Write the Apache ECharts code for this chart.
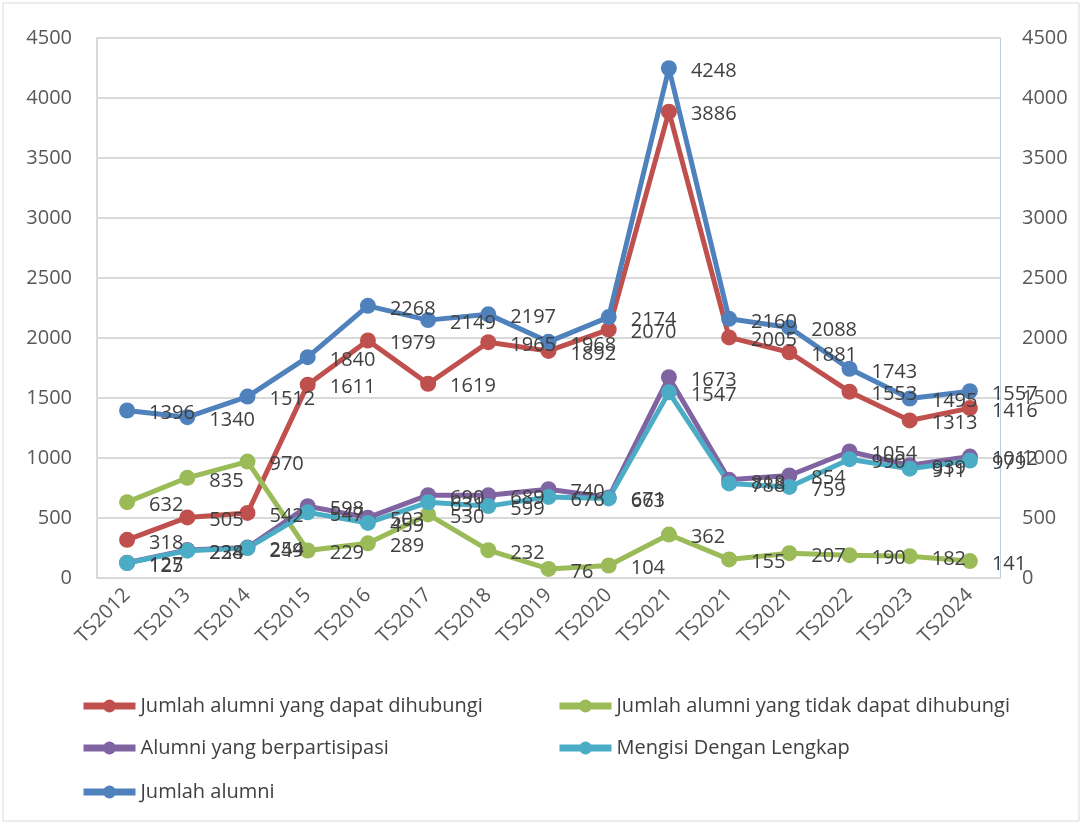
<!DOCTYPE html>
<html>
<head>
<meta charset="utf-8">
<title>Alumni</title>
<script src="https://cdn.jsdelivr.net/npm/echarts@6/dist/echarts.min.js"></script>
<style>
  html, body { margin: 0; padding: 0; background: #fff; }
  #chart { width: 1082px; height: 826px; }
</style>
</head>
<body>
<div id="chart"></div>
<script>
// data
const categories = ['TS2012', 'TS2013', 'TS2014', 'TS2015', 'TS2016', 'TS2017', 'TS2018', 'TS2019',
  'TS2020', 'TS2021', 'TS2021', 'TS2021', 'TS2022', 'TS2023', 'TS2024'];
const dapatDihubungi = [318, 505, 542, 1611, 1979, 1619, 1965, 1892, 2070, 3886, 2005, 1881, 1553, 1313, 1416];
const tidakDihubungi = [632, 835, 970, 229, 289, 530, 232, 76, 104, 362, 155, 207, 190, 182, 141];
const berpartisipasi = [127, 234, 254, 598, 503, 690, 689, 740, 671, 1673, 818, 854, 1054, 939, 1012];
const mengisiLengkap = [125, 228, 249, 547, 459, 631, 599, 676, 663, 1547, 788, 759, 990, 911, 979];
const jumlahAlumni = [1396, 1340, 1512, 1840, 2268, 2149, 2197, 1968, 2174, 4248, 2160, 2088, 1743, 1495, 1557];
const yTicks = { min: 0, max: 4500, interval: 500 };

const font = "'Open Sans', sans-serif";
const chart = echarts.init(document.getElementById('chart'));

function lineSeries(name, data, color) {
  return {
    name: name,
    type: 'line',
    data: data,
    symbol: 'circle',
    symbolSize: 16,
    lineStyle: { width: 5, color: color },
    itemStyle: { color: color },
    label: {
      show: true,
      position: 'right',
      distance: 14,
      offset: [0, 3],
      color: '#404040',
      fontSize: 20,
      fontFamily: font
    },
    emphasis: { disabled: true },
    animation: false
  };
}

const series = [
  lineSeries('Jumlah alumni yang dapat dihubungi', dapatDihubungi, '#c0504d'),
  lineSeries('Jumlah alumni yang tidak dapat dihubungi', tidakDihubungi, '#9bbb59'),
  lineSeries('Alumni yang berpartisipasi', berpartisipasi, '#8064a2'),
  lineSeries('Mengisi Dengan Lengkap', mengisiLengkap, '#4bacc6'),
  lineSeries('Jumlah alumni', jumlahAlumni, '#4f81bd')
];

// one legend per item so they sit in the two-column grid
const legendPos = [[80, 696], [556, 696], [80, 738], [556, 738], [80, 782]];
const legends = series.map((s, i) => ({
  data: [s.name],
  left: legendPos[i][0],
  top: legendPos[i][1],
  padding: 0,
  itemWidth: 52,
  itemHeight: 16,
  itemGap: 0,
  lineStyle: { width: 7 },
  textStyle: { fontSize: 20, color: '#404040', fontFamily: font },
  selectedMode: false
}));

const plain = (v) => String(v);

const option = {
  backgroundColor: '#fff',
  animation: false,
  textStyle: { fontFamily: font },
  graphic: [{
    type: 'rect',
    shape: { x: 3, y: 3, width: 1076, height: 818 },
    style: { fill: 'none', stroke: '#d9d9d9', lineWidth: 1 },
    silent: true
  }],
  legend: legends,
  grid: { left: 97, right: 82, top: 38, bottom: 248 },
  xAxis: {
    type: 'category',
    data: categories,
    boundaryGap: true,
    axisLine: { show: true, lineStyle: { color: '#d9d9d9', width: 2 } },
    axisTick: { show: false },
    axisLabel: {
      rotate: 45,
      interval: 0,
      margin: 14,
      color: '#595959',
      fontSize: 20,
      fontFamily: font
    }
  },
  yAxis: [{
    type: 'value',
    min: yTicks.min, max: yTicks.max, interval: yTicks.interval,
    axisLine: { show: true, lineStyle: { color: '#d9d9d9', width: 2 } },
    axisTick: { show: false },
    axisLabel: { margin: 25, color: '#595959', fontSize: 20, fontFamily: font, formatter: plain },
    splitLine: { lineStyle: { color: '#d9d9d9', width: 2 } }
  }, {
    type: 'value',
    position: 'right',
    min: yTicks.min, max: yTicks.max, interval: yTicks.interval,
    axisLine: { show: true, lineStyle: { color: '#b9cde5', width: 1 } },
    axisTick: { show: false },
    axisLabel: { margin: 22, color: '#595959', fontSize: 20, fontFamily: font, formatter: plain },
    splitLine: { show: false }
  }],
  series: series
};

chart.setOption(option);
</script>
</body>
</html>
